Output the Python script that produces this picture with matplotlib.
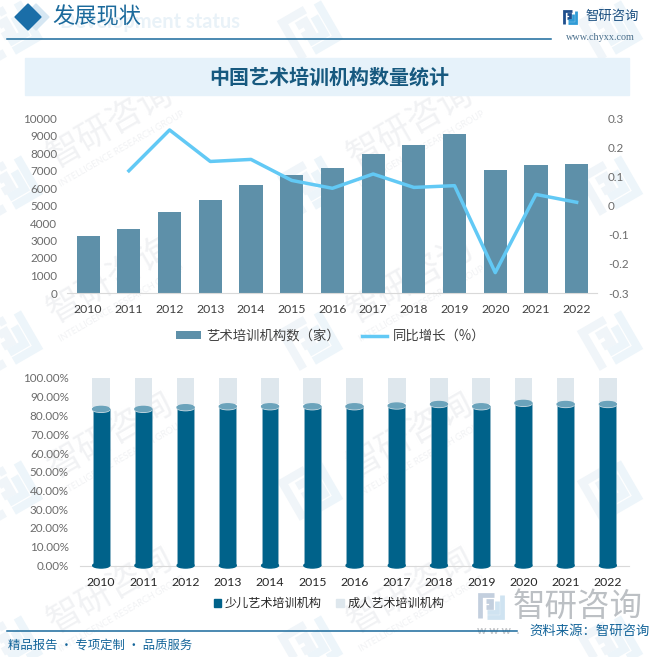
import matplotlib
matplotlib.use("Agg")
import matplotlib.pyplot as plt
from matplotlib.patches import Ellipse, Polygon, Rectangle, Patch
import numpy as np

years = ["2010","2011","2012","2013","2014","2015","2016","2017","2018","2019","2020","2021","2022"]
institutions = [3257,3657,4628,5314,6171,6743,7143,7943,8457,9086,7029,7314,7371]
growth = [None,0.119,0.259,0.151,0.158,0.086,0.059,0.108,0.062,0.068,-0.23,0.038,0.011]
children_share = [83.5,83.5,84.4,84.9,84.9,84.9,84.9,85.3,86.1,84.9,86.7,86.1,86.1]
adult_share = [100 - v for v in children_share]
left_ticks = list(range(0,10001,1000))
right_ticks = [-0.3,-0.2,-0.1,0,0.1,0.2,0.3]
right_labels = ["-0.3","-0.2","-0.1","0","0.1","0.2","0.3"]
pct_ticks = list(range(0,101,10))

CJK = "Noto Sans CJK SC"
LAT = "Lato"
W, H = 661, 657
fig = plt.figure(figsize=(W/100, H/100), dpi=100, facecolor="white")

bg = fig.add_axes([0,0,1,1], zorder=0)
bg.set_xlim(0,W); bg.set_ylim(H,0); bg.axis("off")

def logo(ax, cx, cy, size, c1, c2, angle=0, lw=3, z=1):
    t = np.radians(angle)
    def tr(pts):
        p = (np.array(pts)-0.5)*size
        x = p[:,0]*np.cos(t)+p[:,1]*np.sin(t)+cx
        y = -p[:,0]*np.sin(t)+p[:,1]*np.cos(t)+cy
        return x,y
    for pts,c in [([(0.08,0.95),(0.08,0.08),(0.62,0.08)],c1),
                  ([(0.3,0.55),(0.5,0.55),(0.5,0.3),(0.3,0.3)],c1),
                  ([(0.92,0.08),(0.92,0.92),(0.35,0.92)],c2),
                  ([(0.72,0.3),(0.72,0.72),(0.35,0.72)],c2)]:
        x,y = tr(pts)
        ax.plot(x,y,color=c,lw=lw,solid_capstyle="butt",solid_joinstyle="miter",zorder=z)

# watermarks
for x in (110,410):
    for y in (125,280,435,590):
        bg.text(x,y,"智研咨询",family=CJK,fontsize=25,color="#f1f2f4",rotation=30,ha="center",va="center",zorder=1)
        bg.text(x+12,y+24,"INTELLIGENCE RESEARCH GROUP",family=LAT,fontsize=6.5,color="#f1f2f4",rotation=30,ha="center",va="center",zorder=1)
for x in (10,310,610):
    for y in (30,185,340,490,645):
        logo(bg,x,y,48,"#f0f5f9","#edf5fa",angle=30,lw=6)

# header
bg.text(60,22,"Development status",family=LAT,weight="bold",fontsize=14.4,color="#e9f2f8",ha="left",va="center",zorder=2)
bg.add_patch(Polygon([(36,4),(49,17),(36,30),(23,17)],color="#d6e7f3",zorder=2))
bg.add_patch(Polygon([(28,4),(41,17),(28,30),(15,17)],color="#1a6ea8",zorder=3))
bg.text(52,17,"发展现状",family=CJK,fontsize=16,color="#1b6a9c",ha="left",va="center",zorder=3)
bg.plot([7,551],[38.5,38.5],color="#1a6a9c",lw=1.1,zorder=3)
logo(bg,570,17,15,"#1f4e8c","#2f9bd6",lw=2,z=3)
bg.text(585,16,"智研咨询",family=CJK,fontsize=9.6,color="#1b4f80",ha="left",va="center",zorder=3)
bg.text(600,37,"www.chyxx.com",family="Liberation Serif",fontsize=7.3,color="#4a6f8c",ha="center",va="center",zorder=3)

# title band
bg.add_patch(Rectangle((25,58),604,37,color="#e6f2fa",zorder=2))
bg.text(329,77,"中国艺术培训机构数量统计",family=CJK,weight="bold",fontsize=14.4,color="#17597f",ha="center",va="center",zorder=3)

# top chart
def axpx(l,t,r,b,z=2):
    a = fig.add_axes([l/W,1-b/H,(r-l)/W,(b-t)/H],zorder=z)
    a.patch.set_alpha(0)
    return a

ax = axpx(67,118,597,293)
x = np.arange(len(years))
bars = ax.bar(x,institutions,width=0.57,color="#5e90a9",label="艺术培训机构数（家）",zorder=2)
ax.set_xlim(-0.52,12.5)
ax.set_ylim(0,10000)
ax.set_yticks(left_ticks)
ax.set_xticks(x,years)
ax.tick_params(axis="both",length=0)
ax.tick_params(axis="y",pad=7,labelcolor="#6b6b6b",labelsize=8.4)
ax.tick_params(axis="x",pad=8,labelcolor="#404040",labelsize=8.8)
for s in ("top","left","right"):
    ax.spines[s].set_visible(False)
ax.spines["bottom"].set_color("#d9d9d9")
for l in ax.get_xticklabels()+ax.get_yticklabels():
    l.set_family(LAT)

ax_r = ax.twinx()
ax_r.patch.set_alpha(0)
gx = [i for i,g in enumerate(growth) if g is not None]
gy = [g for g in growth if g is not None]
ln, = ax_r.plot(gx,gy,color="#62c9f5",lw=2.5,label="同比增长（%）",zorder=3)
ax_r.set_ylim(-0.3,0.3)
ax_r.set_yticks(right_ticks,right_labels)
ax_r.tick_params(axis="y",length=0,pad=8,labelcolor="#6b6b6b",labelsize=8.4)
for s in ax_r.spines.values():
    s.set_visible(False)
for l in ax_r.get_yticklabels():
    l.set_family(LAT)

ax_r.legend(handles=[bars,ln],ncol=2,loc="center",bbox_to_anchor=((330.5-67)/530,(293-336)/175),
    frameon=False,prop={"family":CJK,"size":9.6},handlelength=1.9,handleheight=0.5,columnspacing=1.6,handletextpad=0.4,labelcolor="#404040")

# bottom chart
ax2 = axpx(80,378,629,565.5)
bw = 0.4
eh = 2.7
ax2.bar(x,children_share,width=bw,color="#00628a",edgecolor="#8fb6c7",linewidth=0.5,label="少儿艺术培训机构",zorder=2)
ax2.bar(x,[a-1.2 for a in adult_share],bottom=[c+1.2 for c in children_share],width=bw*1.04,color="#dee7ed",label="成人艺术培训机构",zorder=2)
for i,v in enumerate(children_share):
    ax2.add_patch(Ellipse((i,0),bw,eh,color="#00628a",zorder=3,clip_on=False))
    ax2.add_patch(Ellipse((i,v-0.45),bw,eh,color="#c4d8e1",zorder=3,clip_on=False))
    ax2.add_patch(Ellipse((i,v),bw,eh,color="#6ba3bb",zorder=4,clip_on=False))
ax2.set_xlim(-0.5,12.5)
ax2.set_ylim(0,100)
ax2.set_yticks(pct_ticks,[f"{t}.00%" for t in pct_ticks])
ax2.set_xticks(x,years)
ax2.tick_params(axis="both",length=0)
ax2.tick_params(axis="y",pad=8,labelcolor="#6b6b6b",labelsize=8.4)
ax2.tick_params(axis="x",pad=8,labelcolor="#262626",labelsize=8.8)
for s in ("top","left","right"):
    ax2.spines[s].set_visible(False)
ax2.spines["bottom"].set_color("#d9d9d9")
for l in ax2.get_xticklabels()+ax2.get_yticklabels():
    l.set_family(LAT)
ax2.legend(handles=[Patch(color="#00628a",label="少儿艺术培训机构"),Patch(color="#dee7ed",label="成人艺术培训机构")],
    ncol=2,loc="center",bbox_to_anchor=((329-80)/549,(565.5-603.5)/187.5),frameon=False,
    prop={"family":CJK,"size":8.7},handlelength=0.6,handleheight=0.6,columnspacing=1.2,handletextpad=0.3,labelcolor="#262626")

# footer
bg.plot([7,517],[630.5,630.5],color="#1a6a9c",lw=1.1,zorder=3)
bg.text(8,645,"精品报告 · 专项定制 · 品质服务",family=CJK,fontsize=8.9,color="#14659a",ha="left",va="center",zorder=3)
bg.text(650,631,"资料来源：智研咨询",family=CJK,fontsize=9.6,color="#14659a",ha="right",va="center",zorder=3)
logo(bg,491,606,27,"#c3cfde","#cfe3f1",lw=3.4,z=2)
bg.text(577.5,607,"智研咨询",family=CJK,fontsize=23.4,color="#bcc0c4",ha="center",va="center",zorder=2)
bg.text(477,631,"w w w  .",family=LAT,weight="bold",fontsize=8.5,color="#c4c6c9",ha="left",va="center",zorder=2)

fig.savefig("out.png",dpi=100)
